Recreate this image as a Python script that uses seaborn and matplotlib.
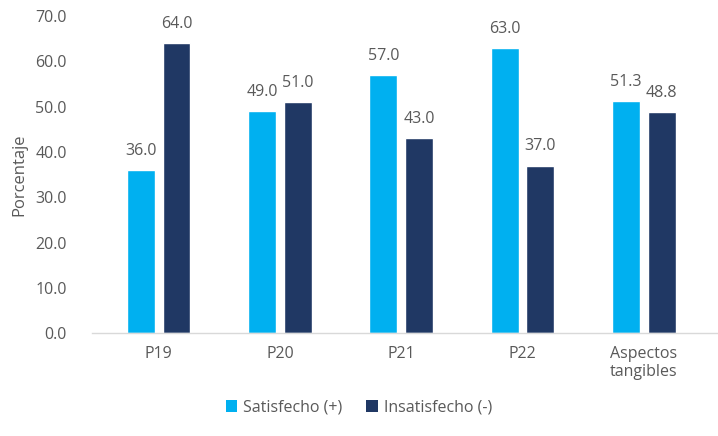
import matplotlib
matplotlib.use("Agg")
import matplotlib.pyplot as plt
import seaborn as sns
import pandas as pd
from matplotlib.patches import Patch

categorias = ["P19", "P20", "P21", "P22", "Aspectos\ntangibles"]
satisfecho = [36.0, 49.0, 57.0, 63.0, 51.3]
insatisfecho = [64.0, 51.0, 43.0, 37.0, 48.8]
series = ["Satisfecho (+)", "Insatisfecho (-)"]
colores = ["#00B0F0", "#203864"]

df = pd.DataFrame({
    "categoria": categorias * 2,
    "valor": satisfecho + insatisfecho,
    "serie": [series[0]] * len(categorias) + [series[1]] * len(categorias),
})

sns.set_theme(style="white")
plt.rcParams["font.family"] = ["Open Sans", "DejaVu Sans"]
texto = "#595959"

fig = plt.figure(figsize=(7.18, 4.36), dpi=100)
ax = fig.add_axes([0.128, 0.236, 0.87, 0.727])

sns.barplot(data=df, x="categoria", y="valor", hue="serie", order=categorias,
            hue_order=series, palette=colores, width=0.59, gap=0.22,
            saturation=1, ax=ax, legend=False)

for cont in ax.containers:
    ax.bar_label(cont, fmt="%.1f", padding=8, fontsize=11.5, color=texto)

ax.set_ylim(0, 70)
ax.set_yticks(range(0, 71, 10))
ax.set_yticklabels([f"{v:.1f}" for v in range(0, 71, 10)])
ax.set_xlim(-0.55, 4.6)
ax.set_xlabel("")
ax.set_ylabel("Porcentaje", fontsize=12, color=texto, labelpad=6)
ax.tick_params(axis="both", length=0, labelsize=11.5, colors=texto)
ax.tick_params(axis="y", pad=18)
ax.tick_params(axis="x", pad=9)

for s in ["top", "right", "left"]:
    ax.spines[s].set_visible(False)
ax.spines["bottom"].set_color("#D9D9D9")
ax.spines["bottom"].set_linewidth(1)

handles = [Patch(facecolor=c, edgecolor="none") for c in colores]
fig.legend(handles, series, loc="center", bbox_to_anchor=(0.5, 0.065), ncol=2,
           frameon=False, fontsize=11.5, handlelength=0.7, handleheight=0.7,
           handletextpad=0.4, columnspacing=1.5, labelcolor=texto)

fig.savefig("out.png", dpi=100)
